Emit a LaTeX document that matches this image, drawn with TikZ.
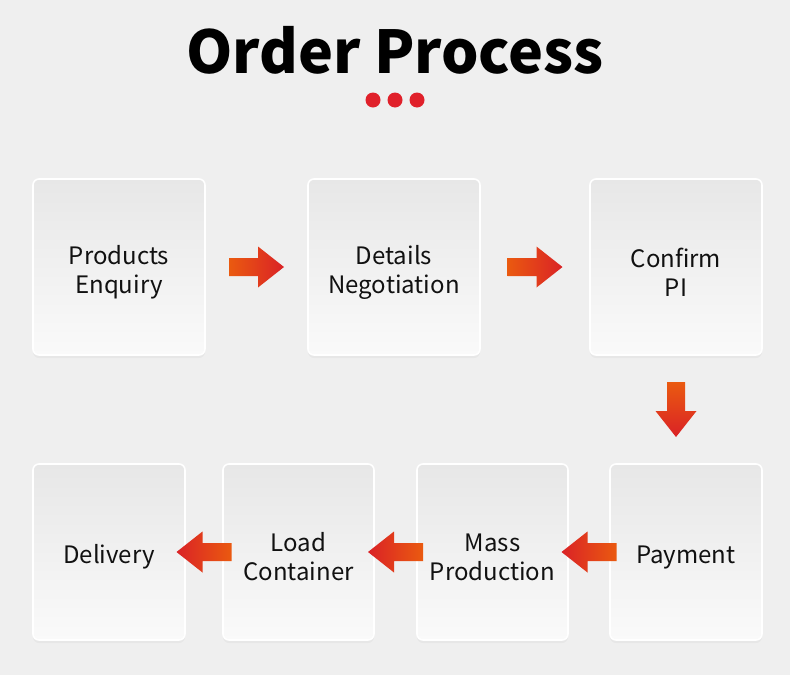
\documentclass[tikz,border=0pt]{standalone}
\usepackage{fontspec}
\setmainfont{Noto Sans CJK SC}
\usepackage{tikz}
\usetikzlibrary{calc, shadows}
\definecolor{pagegray}{HTML}{EFEFEF}
\definecolor{boxtop}{HTML}{E7E7E7}
\definecolor{boxbottom}{HTML}{FAFAFA}
\definecolor{dotred}{HTML}{E0202A}
\definecolor{arroworange}{HTML}{EA5A10}
\definecolor{arrowred}{HTML}{DA2226}
\definecolor{textblack}{HTML}{111111}
\newcommand\boxstrut{\rule{0pt}{29pt}}

\begin{document}
\begin{tikzpicture}[
    x=1pt, y=-1pt,
    every node/.style={font=\fontsize{24}{29}\selectfont, text=textblack},
    stepbox/.style={draw=white, line width=1.6pt, rounded corners=6pt, top color=boxtop, bottom color=boxbottom,
        minimum height=176pt, align=center, inner sep=0pt,
        drop shadow={shadow xshift=0pt, shadow yshift=-3pt, opacity=0.07}},
    flow/.pic={\path[pic actions] (-27.5,-9) -- (1.5,-9) -- (1.5,-20.5) -- (27.5,0) -- (1.5,20.5) -- (1.5,9) -- (-27.5,9) -- cycle;}
]
    % Background
    \fill[pagegray] (0,0) rectangle (790,675);
    \useasboundingbox (0,0) rectangle (790,675);

    % Title
    \node[font=\fontsize{59}{70}\selectfont\bfseries, text=black, anchor=base] (title) at (395,73) {Order Process};
    \foreach \dx in {-22,0,22}
        \fill[dotred] (395+\dx,100) circle (7.5pt);

    % Top row
    \node[stepbox, minimum width=172pt] (enquiry) at (119,267) {\boxstrut Products\\Enquiry};
    \node[stepbox, minimum width=172pt] (negotiation) at (394,267) {\boxstrut Details\\Negotiation};
    \node[stepbox, minimum width=172pt] (confirm) at (676,267) {\boxstrut Confirm\\PI};

    % Bottom row
    \node[stepbox, minimum width=152pt] (payment) at (686,552) {\boxstrut Payment};
    \node[stepbox, minimum width=151pt] (production) at (492.5,552) {\boxstrut Mass\\Production};
    \node[stepbox, minimum width=151pt] (container) at (298.5,552) {\boxstrut Load\\Container};
    \node[stepbox, minimum width=152pt] (delivery) at (109,552) {\boxstrut Delivery};

    % Arrows
    \pic[left color=arroworange, right color=arrowred] at ($(enquiry.east)!0.5!(negotiation.west)$) {flow};
    \pic[left color=arroworange, right color=arrowred] at ($(negotiation.east)!0.5!(confirm.west)$) {flow};
    \pic[rotate=-90, top color=arroworange, bottom color=arrowred] at ($(confirm.south)!0.5!(confirm.south |- payment.north)$) {flow};
    \pic[rotate=180, left color=arrowred, right color=arroworange] at ($(payment.west)!0.5!(production.east)$) {flow};
    \pic[rotate=180, left color=arrowred, right color=arroworange] at ($(production.west)!0.5!(container.east)$) {flow};
    \pic[rotate=180, left color=arrowred, right color=arroworange] at ($(container.west)!0.5!(delivery.east)$) {flow};
\end{tikzpicture}
\end{document}
